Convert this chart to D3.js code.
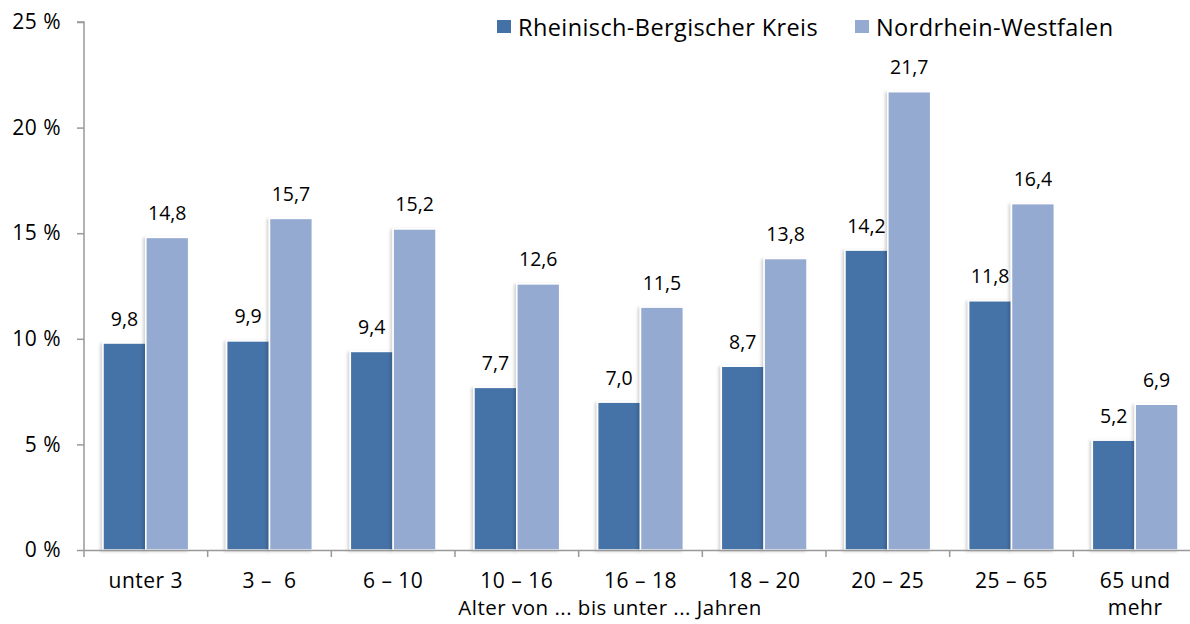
<!DOCTYPE html>
<html>
<head>
<meta charset="utf-8">
<script src="https://cdn.jsdelivr.net/npm/d3@7"></script>
<style>
  body { margin: 0; background: #fff; }
  text { font-family: "Open Sans", Lato, sans-serif; fill: #000; }
</style>
</head>
<body>
<script>
var categories = ["unter 3", "3 –\u00a0 6", "6 – 10", "10 – 16", "16 – 18", "18 – 20", "20 – 25", "25 – 65", "65 und|mehr"];
var seriesNames = ["Rheinisch-Bergischer Kreis", "Nordrhein-Westfalen"];
var rbkValues = [9.8, 9.9, 9.4, 7.7, 7.0, 8.7, 14.2, 11.8, 5.2];
var nrwValues = [14.8, 15.7, 15.2, 12.6, 11.5, 13.8, 21.7, 16.4, 6.9];
var yTicks = [0, 5, 10, 15, 20, 25];
var colors = ["#4472a7", "#95aad1"];

var width = 1190, height = 624;
var svg = d3.select("body").append("svg").attr("width", width).attr("height", height);

// drop shadow for the bars
var defs = svg.append("defs");
var f = defs.append("filter").attr("id", "shadow").attr("x", "-20%").attr("y", "-5%").attr("width", "140%").attr("height", "110%");
f.append("feDropShadow").attr("dx", -2).attr("dy", 1).attr("stdDeviation", 1.5)
  .attr("flood-color", "#000").attr("flood-opacity", 0.18);

var x = d3.scaleBand().domain(d3.range(categories.length)).range([84, 1197]).paddingInner(0).paddingOuter(0);
var y = d3.scaleLinear().domain([0, 25]).range([550, 22]);
var inner = d3.scaleBand().domain([0, 1]).range([19, x.bandwidth() - 19]);

var fmt = function(v){ return d3.format(".1f")(v).replace(".", ","); };

// y axis
var yAxis = svg.append("g").attr("transform", "translate(84,0)")
  .call(d3.axisLeft(y).tickValues(yTicks).tickSize(7).tickPadding(16).tickFormat(function(d){ return d + "\u00a0%"; }));
yAxis.select(".domain").attr("stroke", "#999").attr("stroke-width", 1.5).attr("d", "M-7,22H0V550");
yAxis.selectAll(".tick line").attr("stroke", "#999").attr("stroke-width", 1.5);
yAxis.selectAll(".tick text").attr("font-size", 21).style("font-family", "'Open Sans', Lato, sans-serif")
  .attr("fill", "#000").attr("letter-spacing", 0.5);

// bars
var data = [rbkValues, nrwValues];
data.forEach(function(vals, s){
  svg.append("g").selectAll("rect")
    .data(vals)
    .enter().append("rect")
      .attr("x", function(d,i){ return x(i) + inner(s); })
      .attr("width", inner.bandwidth())
      .attr("y", function(d){ return y(d); })
      .attr("height", function(d){ return y(0) - y(d); })
      .attr("fill", colors[s])
      .attr("stroke", "#fff")
      .attr("stroke-width", 1.5)
      .attr("filter", "url(#shadow)");

  svg.append("g").selectAll("text")
    .data(vals)
    .enter().append("text")
      .attr("x", function(d,i){ return x(i) + inner(s) + inner.bandwidth()/2; })
      .attr("y", function(d){ return y(d) - 17.5; })
      .attr("text-anchor", "middle")
      .attr("font-size", 19.5)
      .text(fmt);
});

// x axis
var xAxis = svg.append("g").attr("transform", "translate(0,550)")
  .call(d3.axisBottom(x).tickSize(0).tickFormat(""));
xAxis.select(".domain").attr("stroke", "#999").attr("stroke-width", 1.5);
xAxis.selectAll(".tick").remove();
svg.append("g").selectAll("line")
  .data(d3.range(categories.length + 1))
  .enter().append("line")
    .attr("x1", function(i){ return i < categories.length ? x(i) : x.range()[1]; })
    .attr("x2", function(i){ return i < categories.length ? x(i) : x.range()[1]; })
    .attr("y1", 550).attr("y2", 557)
    .attr("stroke", "#999").attr("stroke-width", 1.5);

var catLabels = svg.append("g").selectAll("text")
  .data(categories)
  .enter().append("text")
    .attr("x", function(d,i){ return x(i) + x.bandwidth()/2; })
    .attr("y", 588)
    .attr("text-anchor", "middle")
    .attr("font-size", 21)
    .attr("letter-spacing", 0.5);
catLabels.each(function(d){
  var parts = d.split("|");
  var t = d3.select(this);
  parts.forEach(function(p, k){
    t.append("tspan").attr("x", t.attr("x")).attr("dy", k === 0 ? 0 : 27).text(p);
  });
});

svg.append("text")
  .attr("x", 610).attr("y", 615)
  .attr("text-anchor", "middle")
  .attr("font-size", 20.5)
  .attr("letter-spacing", 0.5)
  .text("Alter von ... bis unter ... Jahren");

// legend
var legendX = [497, 855];
var legend = svg.append("g").selectAll("g")
  .data(seriesNames)
  .enter().append("g")
    .attr("transform", function(d,i){ return "translate(" + legendX[i] + ",20)"; });
legend.append("rect").attr("width", 14).attr("height", 13).attr("fill", function(d,i){ return colors[i]; });
legend.append("text").attr("x", 21).attr("y", 16).attr("font-size", 23.5).attr("letter-spacing", 0.4)
  .text(function(d){ return d; });
</script>
</body>
</html>
